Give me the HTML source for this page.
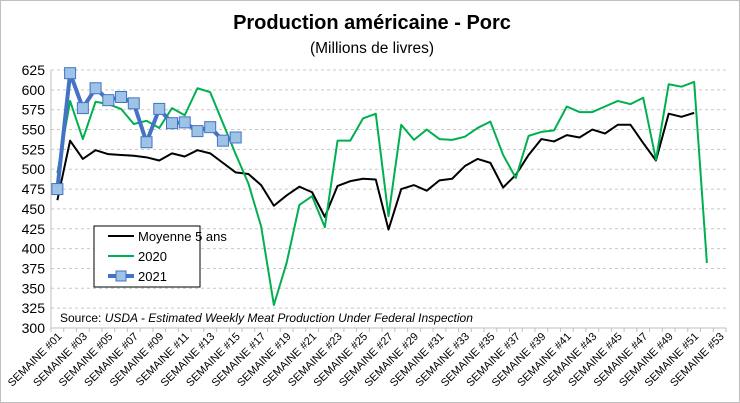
<!DOCTYPE html>
<html><head><meta charset="utf-8"><style>
body{margin:0;background:#fff}
svg{display:block;font-family:"Liberation Sans",sans-serif}
</style></head><body>
<svg id="chart" width="740" height="403" viewBox="0 0 740 403">
<rect x="0.5" y="0.5" width="739" height="402" fill="#fff" stroke="#bfbfbf"/>
<text x="372" y="29" text-anchor="middle" font-size="20" font-weight="bold">Production américaine - Porc</text>
<text x="372" y="53" text-anchor="middle" font-size="15.5">(Millions de livres)</text>
<g id="grid"></g><g id="axes"></g><g id="series"></g>
<text x="60" y="322" font-size="12">Source: <tspan font-style="italic">USDA - Estimated Weekly Meat Production Under Federal Inspection</tspan></text>
<g>
<rect x="94" y="226" width="106" height="61" fill="#fff" stroke="#000" stroke-width="1"/>
<g><line x1="108" y1="236" x2="134" y2="236" stroke="#000" stroke-width="2"/><text x="138" y="241" font-size="13">Moyenne 5 ans</text></g>
<g><line x1="108" y1="256" x2="134" y2="256" stroke="#00b050" stroke-width="2"/><text x="138" y="261" font-size="13">2020</text></g>
<g><line x1="108" y1="276" x2="134" y2="276" stroke="#4472c4" stroke-width="4"/><rect x="116" y="271" width="10" height="10" fill="#9dc3e6" stroke="#4472c4"/><text x="138" y="281" font-size="13">2021</text></g>
</g>
</svg>
<script>
const avg5 = [461,536,513,524,519,518,517,515,511,520,516,524,520,508,496,494,480,454,467,478,471,440,479,485,488,487,424,475,480,473,486,488,504,513,508,477,493,518,538,535,543,540,550,545,556,556,533,511,570,566,571];
const y2020 = [495,586,538,585,582,576,557,561,552,577,568,602,597,558,519,482,428,329,382,455,466,427,536,536,564,570,441,556,537,550,538,537,541,552,560,518,489,542,547,549,579,572,572,579,586,582,590,512,607,604,610,382];
const y2021 = [475,621,577,602,587,591,583,534,576,558,559,548,553,536,540];
const yTicks = [300,325,350,375,400,425,450,475,500,525,550,575,600,625];
const nWeeks = 53;
const weekLabels = Array.from({length:nWeeks},(_,i)=>'SEMAINE #'+String(i+1).padStart(2,'0'));

const NS='http://www.w3.org/2000/svg';
const X0=51, X1=726, Y0=328, Y1=70, VMIN=300, VMAX=625;
const cw=(X1-X0)/nWeeks;
const xPos=i=>X0+(i+0.5)*cw;
const yPos=v=>Y0-(v-VMIN)/(VMAX-VMIN)*(Y0-Y1);
function mk(tag,attrs,parent){const e=document.createElementNS(NS,tag);for(const k in attrs)e.setAttribute(k,attrs[k]);parent.appendChild(e);return e;}
const grid=document.getElementById('grid'), axes=document.getElementById('axes'), series=document.getElementById('series');
yTicks.forEach(v=>{
  const y=yPos(v);
  if(v>VMIN){const l=mk('line',{x1:X0,x2:X1,y1:y,y2:y,stroke:'#c8c8c8','stroke-dasharray':'3,3'},grid);
  
  }
  const t=mk('text',{x:X0-6,y:y+5,'text-anchor':'end','font-size':'14'},axes);t.textContent=v;
  
  
});
const ya=mk('line',{x1:X0,x2:X0,y1:Y1,y2:Y0,stroke:'#bfbfbf'},axes);


const xa=mk('line',{x1:X0,x2:X1,y1:Y0,y2:Y0,stroke:'#bfbfbf'},axes);


for(let i=0;i<=nWeeks;i++){mk('line',{x1:X0+i*cw,x2:X0+i*cw,y1:Y0,y2:Y0+4,stroke:'#bfbfbf'},axes);}
weekLabels.forEach((lab,i)=>{
  if(i%2)return;
  const x=xPos(i)+5,y=Y0+9;
  const t=mk('text',{x:x,y:y,'text-anchor':'end','font-size':'11',transform:`rotate(-45 ${x} ${y})`},axes);
  t.textContent=lab;
  
  
});
function line(data,color,w,name){
  const p=mk('polyline',{points:data.map((v,i)=>xPos(i)+','+yPos(v)).join(' '),fill:'none',stroke:color,'stroke-width':w,'stroke-linejoin':'round'},series);
  
  
}
line(avg5,'#000',2,'line-moyenne-5-ans');
line(y2020,'#00b050',2,'line-2020');
line(y2021,'#4472c4',4,'line-2021');
y2021.forEach((v,i)=>{
  const r=mk('rect',{x:xPos(i)-5.5,y:yPos(v)-5.5,width:11,height:11,fill:'#9dc3e6',stroke:'#4472c4','stroke-width':1},series);
  
  
});
</script>
</body></html>
